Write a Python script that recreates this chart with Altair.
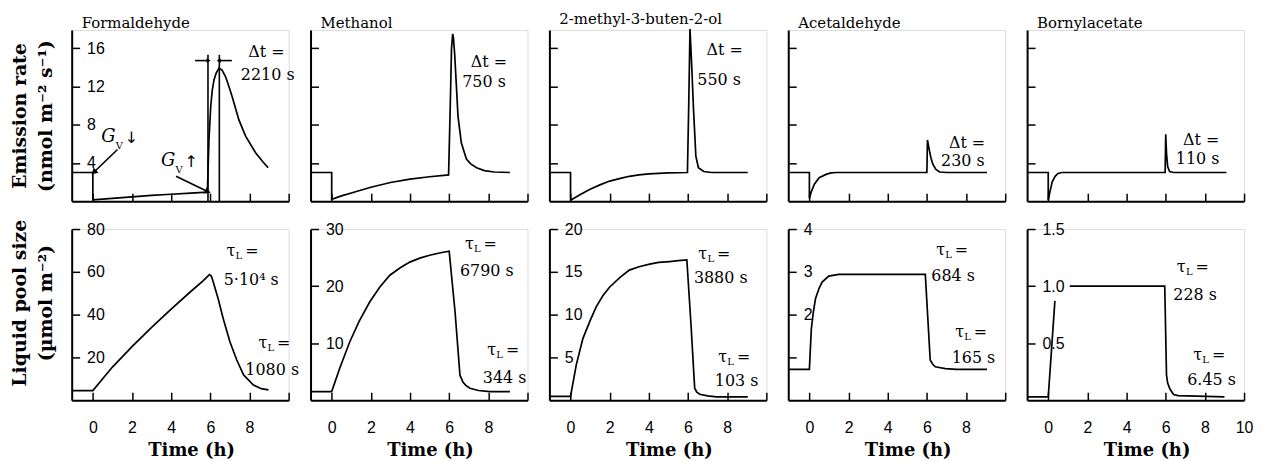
import math
import altair as alt
import pandas as pd

# ---------------- data ----------------
names = ["Formaldehyde", "Methanol", "2-methyl-3-buten-2-ol", "Acetaldehyde", "Bornylacetate"]

T_DOMAIN = [-1.08, 10]
EM_MAX = 17.9

# emission rate (nmol m-2 s-1) vs time (h)
em_form_t = [-1.05, 0.0, 0.0, 1.0, 2.0, 3.0, 4.0, 5.0, 5.85, 5.93, 6.02, 6.1, 6.19, 6.3, 6.44, 6.6, 6.78, 6.95, 7.12, 7.46, 7.8, 8.31, 8.65, 8.95]
em_form_v = [3.0, 3.0, 0.15, 0.3, 0.45, 0.6, 0.72, 0.85, 0.95, 6.4, 9.9, 11.6, 12.7, 13.4, 13.9, 13.7, 13.0, 12.0, 10.9, 8.5, 6.8, 5.06, 4.2, 3.5]
em_meth_t = [-1.05, 0.0, 0.0, 0.5, 1.0, 2.0, 3.0, 4.0, 5.0, 5.97, 6.05, 6.12, 6.18, 6.22, 6.28, 6.37, 6.45, 6.62, 6.88, 7.1, 7.4, 7.8, 8.3, 9.1]
em_meth_v = [3.0, 3.0, 0.2, 0.55, 0.85, 1.45, 1.95, 2.3, 2.55, 2.75, 9.5, 16.0, 17.5, 17.0, 15.4, 12.0, 8.9, 6.1, 4.4, 3.9, 3.5, 3.2, 3.05, 3.0]
em_mbo_t = [-1.05, 0.0, 0.0, 0.5, 1.0, 1.5, 2.0, 2.5, 3.0, 3.5, 4.0, 5.0, 5.97, 6.04, 6.1, 6.19, 6.28, 6.4, 6.53, 6.8, 7.2, 9.05]
em_mbo_v = [3.0, 3.0, 0.1, 0.7, 1.25, 1.7, 2.1, 2.35, 2.6, 2.75, 2.85, 2.95, 3.0, 10.5, 18.0, 14.1, 9.6, 4.7, 3.5, 3.1, 3.0, 3.0]
em_acet_t = [-1.05, 0.0, 0.0, 0.1, 0.26, 0.5, 0.85, 1.1, 1.4, 6.0, 6.03, 6.1, 6.2, 6.3, 6.45, 6.65, 7.0, 9.07]
em_acet_v = [3.0, 3.0, 0.3, 1.0, 1.8, 2.45, 2.8, 2.95, 3.0, 3.0, 6.4, 5.6, 4.6, 3.9, 3.35, 3.05, 3.0, 3.0]
em_born_t = [-1.05, 0.0, 0.0, 0.1, 0.2, 0.35, 0.5, 0.7, 5.97, 6.0, 6.04, 6.1, 6.2, 6.4, 9.1]
em_born_v = [3.0, 3.0, 0.1, 1.1, 2.0, 2.6, 2.9, 3.0, 3.0, 7.0, 5.0, 3.6, 3.1, 3.0, 3.0]

# liquid pool size (umol m-2) vs time (h); None = part of the curve hidden behind a tick label
pool_form_t = [-1.05, 0.0, 1.0, 2.0, 3.0, 4.0, 5.0, 5.6, 5.85, 5.95, 6.05, 6.15, 6.4, 6.66, 7.0, 7.35, 7.7, 8.2, 8.6, 8.97]
pool_form_v = [4.5, 4.5, 15.5, 25.0, 34.0, 42.6, 50.8, 55.5, 57.8, 58.7, 58.0, 55.2, 47.4, 38.1, 27.3, 18.8, 11.8, 7.1, 5.4, 4.8]
pool_meth_t = [-1.05, 0.0, 0.41, 0.92, 1.4, 1.94, 2.45, 2.97, 3.5, 3.99, 4.5, 5.0, 5.5, 6.0, 6.3, 6.55, 6.7, 6.85, 7.06, 7.5, 8.08, 9.1]
pool_meth_v = [1.5, 1.5, 5.6, 10.2, 13.8, 17.2, 19.8, 21.9, 23.2, 24.2, 24.9, 25.4, 25.8, 26.1, 15.5, 4.4, 3.2, 2.6, 2.1, 1.7, 1.5, 1.5]
pool_mbo_t = [-1.05, 0.0, 0.29, 0.63, 1.0, 1.31, 1.65, 1.99, 2.5, 3.0, 3.5, 4.04, 4.5, 5.06, 5.5, 5.94, 6.15, 6.34, 6.45, 6.6, 7.0, 7.45, 9.05]
pool_mbo_v = [0.45, 0.45, 4.1, 7.2, 9.3, 10.9, 12.2, 13.2, 14.3, 15.2, 15.6, 15.9, 16.1, 16.2, 16.3, 16.4, 8.9, 1.4, 0.95, 0.7, 0.5, 0.4, 0.4]
pool_acet_t = [-1.05, 0.0, 0.05, 0.1, 0.2, 0.31, 0.5, 0.65, 0.99, 1.5, 5.92, 6.05, 6.17, 6.3, 6.43, 6.94, 7.5, 9.07]
pool_acet_v = [0.72, 0.72, 1.2, 1.67, 2.05, 2.37, 2.62, 2.76, 2.9, 2.94, 2.94, 1.9, 0.94, 0.84, 0.78, 0.74, 0.72, 0.72]
pool_born_t = [-1.05, 0.0, 0.17, 0.34, 0.7, 1.1, 5.95, 6.04, 6.1, 6.21, 6.4, 6.63, 9.0]
pool_born_v = [0.03, 0.03, 0.45, 0.87, None, 1.0, 1.0, 0.22, 0.15, 0.1, 0.05, 0.04, 0.03]

em_t = [em_form_t, em_meth_t, em_mbo_t, em_acet_t, em_born_t]
em_v = [em_form_v, em_meth_v, em_mbo_v, em_acet_v, em_born_v]
pool_t = [pool_form_t, pool_meth_t, pool_mbo_t, pool_acet_t, pool_born_t]
pool_v = [pool_form_v, pool_meth_v, pool_mbo_v, pool_acet_v, pool_born_v]

pool_max = [80, 30, 20, 4, 1.5]
pool_ticks = [[20, 40, 60, 80], [10, 20, 30], [5, 10, 15, 20], [1, 2, 3, 4], [0.5, 1.0, 1.5]]
pool_hidden = [[], [], [], [1], []]
pool_fmt = ["d", "d", "d", "d", ".1f"]
em_ticks = [4, 8, 12, 16]
time_ticks = [0, 2, 4, 6, 8, 10]

# annotations: delta t (top row)
dt_head = "Δt ="
dt_text = ["2210 s", "750 s", "550 s", "230 s", "110 s"]
dt_head_t = [8.86, 8.03, 7.87, 8.05, 7.81]
dt_head_v = [15.6, 14.5, 15.8, 6.05, 6.35]
dt_val_t = [8.93, 7.78, 7.59, 7.84, 7.63]
dt_val_v = [13.2, 12.5, 12.7, 4.15, 4.45]

# annotations: tau_L (bottom row)
tau_t = [[7.61, 9.24], [7.59, 8.73], [7.31, 8.33], [7.26, 8.23], [7.35, 8.19]]
tau_v = [[69.9, 26.5], [27.4, 8.8], [17.1, 5.1], [3.5, 1.6], [1.17, 0.395]]
tauval_text = [["5·10⁴ s", "1080 s"], ["6790 s", "344 s"], ["3880 s", "103 s"], ["684 s", "165 s"], ["228 s", "6.45 s"]]
tauval_t = [[8.09, 9.16], [7.92, 8.83], [7.67, 8.48], [7.34, 8.38], [7.5, 8.34]]
tauval_v = [[56.0, 14.1], [22.7, 3.8], [14.3, 2.2], [2.91, 0.98], [0.92, 0.177]]

# formaldehyde emission panel extras
gv_t = [0.8, 3.85]
gv_v = [6.75, 4.15]
gv_arrow = ["↓", "↑"]
gv_from_t = [1.26, 4.25]
gv_from_v = [5.4, 2.6]
gv_to_t = [0.09, 5.83]
gv_to_v = [3.1, 1.04]
dt_mark_t = [5.88, 6.46]
dt_mark_top = 15.3
dt_arrow_v = 14.7
dt_arrow_from = [5.22, 7.1]
dt_arrow_to = [5.88, 6.46]

# ---------------- styling ----------------
W, H = 218, 172
SERIF = "DejaVu Serif"
SANS = "Liberation Sans"
PX_X = W / (T_DOMAIN[1] - T_DOMAIN[0])
PX_Y = H / EM_MAX

xs = alt.Scale(domain=T_DOMAIN, nice=False, zero=False)


def ysc(mx):
    return alt.Scale(domain=[0, mx], nice=False, zero=False)


def x_axis(bottom, show10):
    common = dict(values=time_ticks, tickSize={"expr": "-8"}, tickWidth=1.5, domainWidth=2,
                  domainColor="black", tickColor="black", grid=False)
    if not bottom:
        return alt.Axis(labels=False, title=None, **common)
    return alt.Axis(labelPadding=27, labelFlush=False, labelFont=SANS, labelFontSize=16,
                    labelColor="black", format="d", labelOverlap=False,
                    labelExpr="datum.label" if show10 else "datum.value == 10 ? '' : datum.label",
                    title="Time (h)", titleFont=SERIF, titleFontWeight="bold", titleFontSize=18,
                    titleColor="black", titleX=120, titleY=51, titleAlign="center",
                    titleBaseline="middle", **common)


def y_axis(values, labels, fmt="d", hidden=(), title=None, title_y=86):
    kw = dict(values=values, tickSize={"expr": "-8"}, tickWidth=1.5, domainWidth=2,
              domainColor="black", tickColor="black", grid=False)
    if labels:
        expr = "datum.label"
        if hidden:
            expr = " || ".join(f"datum.value == {h}" for h in hidden) + " ? '' : datum.label"
        kw.update(labelPadding=-7, labelAlign="left", labelBaseline="middle", labelFont=SANS,
                  labelFontSize=16, labelColor="black", format=fmt, labelExpr=expr,
                  labelOverlap=False, labelFlush=False)
    else:
        kw.update(labels=False)
    if title:
        kw.update(title=title, titleAngle=270, titleX=-52, titleY=title_y, titleAlign="center",
                  titleBaseline="middle", titleLineHeight=26, titleFont=SERIF,
                  titleFontWeight="bold", titleFontSize=19, titleColor="black")
    else:
        kw.update(title=None)
    return alt.Axis(**kw)


def line_layer(ts, vs, ymax, xax, yax):
    df = pd.DataFrame({"t": ts, "v": vs, "i": list(range(len(ts)))})
    return alt.Chart(df).mark_line(color="black", strokeWidth=1.7, clip=False,
                                   invalid="break-paths-show-domains").encode(
        x=alt.X("t:Q", scale=xs, axis=xax),
        y=alt.Y("v:Q", scale=ysc(ymax), axis=yax),
        order="i:Q",
    )


def text_layer(ts, vs, texts, ymax, **mk):
    df = pd.DataFrame({"t": ts, "v": vs, "s": texts})
    style = dict(font=SERIF, fontSize=16, color="black", align="center", baseline="middle")
    style.update(mk)
    return alt.Chart(df).mark_text(**style).encode(
        x=alt.X("t:Q", scale=xs),
        y=alt.Y("v:Q", scale=ysc(ymax)),
        text="s:N",
    )


def arrow_layers(t0, v0, t1, v1, ymax, head_size=45):
    df = pd.DataFrame({"t": t0, "v": v0, "t1": t1, "v1": v1})
    ang = [
        (math.degrees(math.atan2((b - a) * PX_X, (d - c) * PX_Y)) + 360) % 360
        for a, b, c, d in zip(t0, t1, v0, v1)
    ]
    shaft = alt.Chart(df).mark_rule(color="black", strokeWidth=1.6).encode(
        x=alt.X("t:Q", scale=xs), y=alt.Y("v:Q", scale=ysc(ymax)),
        x2="t1:Q", y2="v1:Q")
    hdf = pd.DataFrame({"t": t1, "v": v1, "ang": ang})
    head = alt.Chart(hdf).mark_point(shape="triangle", filled=True, color="black", size=head_size,
                                     opacity=1).encode(
        x=alt.X("t:Q", scale=xs), y=alt.Y("v:Q", scale=ysc(ymax)),
        angle=alt.Angle("ang:Q", scale=None))
    return [shaft, head]


panels_top = []
panels_bot = []
for k in range(5):
    # ---- top row: emission ----
    yax = y_axis(em_ticks, labels=(k == 0),
                 title=["Emission rate", "(nmol m⁻² s⁻¹)"] if k == 0 else None, title_y=86)
    layers = [line_layer(em_t[k], em_v[k], EM_MAX, x_axis(False, False), yax)]
    layers.append(text_layer([dt_head_t[k]], [dt_head_v[k]], [dt_head], EM_MAX))
    layers.append(text_layer([dt_val_t[k]], [dt_val_v[k]], [dt_text[k]], EM_MAX))
    if k == 0:
        mdf = pd.DataFrame({"t": dt_mark_t, "v": [0, 0], "hi": [dt_mark_top] * 2})
        layers.append(alt.Chart(mdf).mark_rule(color="black", strokeWidth=1.6).encode(
            x=alt.X("t:Q", scale=xs),
            y=alt.Y("v:Q", scale=ysc(EM_MAX)), y2="hi:Q"))
        layers += arrow_layers(dt_arrow_from, [dt_arrow_v] * 2, dt_arrow_to, [dt_arrow_v] * 2,
                               EM_MAX, head_size=22)
        layers += arrow_layers(gv_from_t, gv_from_v, gv_to_t, gv_to_v, EM_MAX, head_size=50)
        layers.append(text_layer(gv_t, gv_v, ["G", "G"], EM_MAX, fontStyle="italic", fontSize=18))
        layers.append(text_layer(gv_t, gv_v, ["V", "V"], EM_MAX, fontSize=10, dx=11, dy=9))
        layers.append(text_layer(gv_t, gv_v, gv_arrow, EM_MAX, font="DejaVu Sans", fontSize=16,
                                 dx=23, dy=1))
    top = alt.layer(*layers).properties(
        width=W, height=H,
        title=alt.TitleParams(names[k], anchor="start", frame="group", dx=10, font=SERIF,
                              fontSize=15, fontWeight="normal", color="black", offset=-1))
    panels_top.append(top)

    # ---- bottom row: liquid pool ----
    yax = y_axis(pool_ticks[k], labels=True, fmt=pool_fmt[k], hidden=pool_hidden[k],
                 title=["Liquid pool size", "(µmol m⁻²)"] if k == 0 else None, title_y=74)
    m = pool_max[k]
    layers = [line_layer(pool_t[k], pool_v[k], m, x_axis(True, k == 4), yax)]
    layers.append(text_layer(tau_t[k], tau_v[k], ["τ", "τ"], m, dx=-11))
    layers.append(text_layer(tau_t[k], tau_v[k], ["L", "L"], m, fontSize=10, dx=-3, dy=5))
    layers.append(text_layer(tau_t[k], tau_v[k], ["=", "="], m, dx=10))
    layers.append(text_layer(tauval_t[k], tauval_v[k], tauval_text[k], m))
    panels_bot.append(alt.layer(*layers).properties(width=W, height=H))

chart = alt.concat(*(panels_top + panels_bot), columns=5,
                   spacing={"row": 28, "column": 22}, bounds="flush").properties(
    padding={"left": 2, "top": 2, "right": 0, "bottom": 0}
).configure_view(strokeWidth=0).configure(background="white")

chart.save("out.html", embed_options={"renderer": "svg", "actions": False})
